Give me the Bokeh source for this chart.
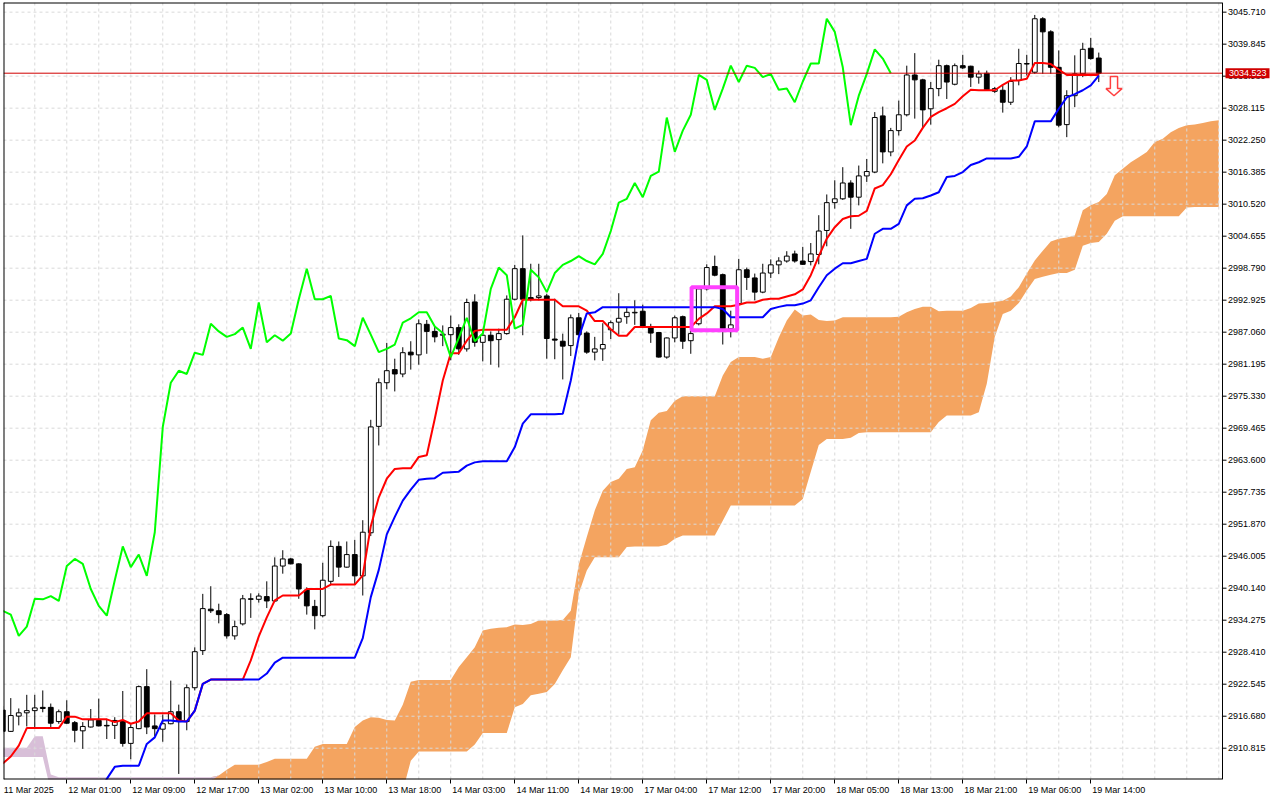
import numpy as np
from bokeh.plotting import figure
from bokeh.models import FixedTicker, LinearAxis, Range1d, ColumnDataSource
from bokeh.core.properties import value
from bokeh.embed import file_html
from bokeh.resources import INLINE

# ---------------- data ----------------
opens = [2917.8, 2913.9, 2916.7, 2917.3, 2917.7, 2918.3, 2918.3, 2915.7, 2917.5, 2915.5,
         2914.0, 2914.7, 2915.9, 2915.0, 2915.0, 2915.7, 2911.7, 2914.4, 2922.1, 2914.9,
         2914.3, 2915.3, 2917.5, 2915.7, 2921.9, 2928.7, 2936.3, 2936.0, 2935.3, 2931.4,
         2933.6, 2938.2, 2938.1, 2938.6, 2937.8, 2944.2, 2945.5, 2944.6, 2939.8, 2936.8,
         2935.1, 2941.4, 2947.8, 2944.0, 2946.3, 2942.4, 2950.3, 2969.8, 2977.8, 2980.2,
         2979.4, 2983.4, 2982.9, 2988.5, 2987.2, 2986.5, 2986.6, 2987.9, 2984.0, 2992.6,
         2985.2, 2986.5, 2985.7, 2986.8, 2993.1, 2998.7, 2993.4, 2993.4, 2993.7, 2985.8,
         2985.4, 2984.6, 2989.7, 2986.9, 2983.4, 2984.0, 2987.5, 2988.9, 2989.9, 2990.6,
         2990.9, 2987.9, 2987.0, 2982.5, 2986.0, 2989.9, 2985.5, 2988.6, 2995.0, 2999.1,
         2997.6, 2987.7, 2992.3, 2998.5, 2997.0, 2994.4, 2997.9, 2999.4, 3000.1, 3001.4,
         3000.1, 3000.0, 3001.3, 3005.7, 3010.8, 3011.5, 3014.4, 3011.8, 3015.7, 3016.4,
         3026.7, 3020.1, 3024.0, 3026.9, 3034.2, 3033.3, 3028.0, 3031.7, 3035.9, 3032.5,
         3035.9, 3035.8, 3033.8, 3034.5, 3031.2, 3031.4, 3029.2, 3033.2, 3036.2, 3034.7,
         3044.5, 3042.1, 3035.6, 3025.1, 3030.4, 3034.4, 3039.1, 3037.3]
highs = [2918.5, 2920.0, 2918.1, 2920.6, 2920.6, 2921.4, 2919.0, 2917.9, 2919.6, 2915.8,
         2915.6, 2918.0, 2919.9, 2916.2, 2916.5, 2921.3, 2915.2, 2922.3, 2925.3, 2917.0,
         2917.0, 2923.2, 2918.8, 2922.5, 2929.3, 2939.1, 2940.5, 2937.3, 2935.6, 2934.2,
         2938.9, 2939.2, 2939.2, 2941.4, 2945.8, 2947.1, 2945.7, 2944.7, 2940.3, 2938.0,
         2944.8, 2948.9, 2948.7, 2948.7, 2949.0, 2952.6, 2971.0, 2978.6, 2985.1, 2982.2,
         2984.3, 2985.4, 2989.4, 2989.3, 2988.0, 2988.3, 2990.1, 2988.5, 2993.2, 2994.0,
         2987.2, 2987.2, 2987.7, 2993.8, 2999.4, 3004.8, 2999.6, 2999.6, 2994.1, 2993.2,
         2986.8, 2990.3, 2990.6, 2987.2, 2986.2, 2988.7, 2989.2, 2994.2, 2991.7, 2992.9,
         2992.1, 2988.6, 2987.1, 2986.1, 2990.1, 2990.1, 2987.7, 2995.3, 2999.5, 3001.1,
         2997.8, 2991.0, 3000.5, 2998.9, 2997.8, 2999.6, 3000.4, 3000.8, 3001.9, 3002.0,
         3002.7, 3003.4, 3008.5, 3012.3, 3014.9, 3017.3, 3014.9, 3017.6, 3018.8, 3027.4,
         3028.4, 3024.5, 3029.5, 3035.9, 3038.2, 3033.5, 3032.9, 3037.0, 3036.1, 3036.3,
         3037.9, 3035.9, 3035.0, 3035.0, 3032.0, 3032.3, 3033.8, 3039.0, 3037.9, 3045.2,
         3044.8, 3042.4, 3038.7, 3031.4, 3037.8, 3040.1, 3041.0, 3038.3]
lows = [2913.5, 2913.8, 2915.0, 2914.8, 2914.4, 2917.4, 2914.7, 2915.3, 2915.3, 2911.9,
        2910.7, 2914.6, 2914.8, 2912.5, 2912.5, 2911.1, 2908.8, 2914.3, 2913.4, 2913.0,
        2912.0, 2915.2, 2906.1, 2914.1, 2921.4, 2927.9, 2935.6, 2933.7, 2930.9, 2930.7,
        2933.3, 2934.7, 2937.5, 2936.5, 2937.6, 2942.8, 2944.5, 2938.2, 2935.3, 2932.6,
        2934.8, 2940.9, 2942.2, 2943.9, 2940.9, 2938.8, 2949.7, 2966.3, 2976.6, 2976.2,
        2978.8, 2980.2, 2981.1, 2983.1, 2985.2, 2984.5, 2981.9, 2982.9, 2983.5, 2984.4,
        2981.7, 2981.1, 2980.6, 2986.6, 2992.9, 2986.5, 2992.7, 2992.9, 2982.2, 2982.1,
        2978.4, 2982.7, 2986.4, 2983.1, 2981.9, 2981.8, 2985.8, 2986.6, 2988.6, 2988.4,
        2987.9, 2985.1, 2982.4, 2982.2, 2985.2, 2984.0, 2983.1, 2988.3, 2994.7, 2997.3,
        2984.8, 2986.1, 2992.1, 2994.8, 2992.9, 2994.2, 2997.0, 2997.7, 2999.8, 2999.8,
        2999.4, 2999.3, 2999.5, 3002.8, 3009.7, 3011.3, 3006.0, 3010.3, 3014.6, 3016.2,
        3018.0, 3019.3, 3023.1, 3026.6, 3026.2, 3024.6, 3025.1, 3030.3, 3029.8, 3032.3,
        3035.3, 3032.0, 3032.6, 3031.4, 3030.9, 3027.3, 3028.7, 3032.3, 3034.1, 3034.4,
        3034.4, 3034.4, 3024.6, 3022.8, 3028.3, 3033.8, 3037.0, 3032.9]
closes = [2913.9, 2916.8, 2917.3, 2917.7, 2918.2, 2918.1, 2915.4, 2917.5, 2915.4, 2914.1,
          2914.8, 2916.0, 2914.9, 2914.9, 2915.9, 2911.7, 2914.6, 2922.1, 2914.7, 2914.4,
          2915.3, 2917.5, 2915.7, 2921.9, 2928.5, 2936.4, 2936.0, 2935.3, 2931.4, 2933.1,
          2938.2, 2938.1, 2938.7, 2937.8, 2944.2, 2945.5, 2944.6, 2940.0, 2936.9, 2935.1,
          2941.6, 2947.8, 2944.0, 2946.3, 2942.4, 2950.4, 2969.7, 2977.8, 2980.0, 2979.4,
          2983.3, 2982.9, 2988.6, 2987.2, 2986.2, 2986.7, 2987.9, 2984.0, 2992.5, 2985.2,
          2986.5, 2985.5, 2986.8, 2993.1, 2998.7, 2993.1, 2993.1, 2993.7, 2985.9, 2985.6,
          2984.5, 2989.7, 2986.6, 2983.4, 2984.0, 2984.8, 2988.8, 2989.6, 2990.7, 2990.7,
          2988.1, 2986.9, 2982.5, 2986.0, 2989.7, 2985.4, 2986.8, 2995.0, 2998.9, 2997.5,
          2987.7, 2988.4, 2998.5, 2997.1, 2994.4, 2997.9, 2999.4, 3000.1, 3001.0, 3000.1,
          2999.5, 3001.4, 3005.6, 3010.8, 3011.5, 3014.4, 3011.8, 3015.7, 3016.5, 3026.4,
          3020.1, 3024.0, 3026.9, 3034.2, 3033.3, 3027.8, 3031.7, 3035.9, 3032.9, 3035.9,
          3035.5, 3033.8, 3034.4, 3031.5, 3031.7, 3029.2, 3033.0, 3036.3, 3036.3, 3044.5,
          3042.1, 3035.6, 3025.0, 3030.4, 3034.4, 3038.9, 3037.2, 3034.523]

tenkan = [2908.0, 2909.3, 2911.3, 2914.5, 2914.5, 2914.5, 2914.5, 2914.5, 2916.6, 2916.6,
          2916.1, 2916.1, 2916.1, 2916.1, 2915.6, 2916.0, 2915.3, 2915.7, 2917.2, 2917.2,
          2917.2, 2917.2, 2915.9, 2915.7, 2917.7, 2922.6, 2923.4, 2923.4, 2923.4, 2923.4,
          2923.4, 2926.9, 2931.3, 2934.8, 2937.9, 2938.8, 2938.8, 2938.8, 2940.0, 2940.0,
          2940.0, 2940.8, 2940.8, 2940.8, 2940.8, 2942.5, 2951.5, 2956.8, 2960.2, 2962.0,
          2962.1, 2962.1, 2964.2, 2964.5, 2971.2, 2978.2, 2983.2, 2983.2, 2985.5, 2987.3,
          2987.5, 2987.5, 2987.5, 2987.5, 2989.8, 2993.0, 2993.0, 2993.0, 2993.0, 2993.0,
          2991.8, 2991.8, 2991.8, 2991.0, 2989.1, 2989.1, 2987.6, 2986.4, 2986.4, 2988.0,
          2988.0, 2988.0, 2988.0, 2988.0, 2988.0, 2988.0, 2988.0, 2989.5, 2990.5, 2991.8,
          2991.8, 2991.8, 2992.1, 2992.5, 2992.5, 2993.0, 2993.2, 2993.2, 2993.6, 2994.0,
          2994.9, 2997.5, 3001.0, 3004.2, 3006.3, 3007.8, 3008.3, 3008.4, 3009.3, 3013.4,
          3014.0, 3016.0, 3018.6, 3021.1, 3022.2, 3024.5, 3026.5, 3027.4, 3028.1, 3028.9,
          3030.3, 3031.5, 3031.4, 3031.4, 3031.4, 3032.4, 3033.2, 3033.2, 3033.5, 3036.4,
          3036.4, 3036.2, 3035.2, 3034.2, 3034.2, 3034.2, 3034.2, 3034.2]
kijun = [2902.0, 2902.0, 2902.0, 2902.0, 2902.0, 2902.0, 2902.0, 2902.0, 2902.0, 2902.0,
         2902.0, 2902.0, 2902.0, 2905.2, 2907.4, 2907.6, 2907.6, 2907.6, 2911.6, 2912.8,
         2915.9, 2915.9, 2915.7, 2915.7, 2917.7, 2922.6, 2923.4, 2923.4, 2923.4, 2923.4,
         2923.4, 2923.4, 2923.4, 2924.5, 2926.5, 2927.4, 2927.4, 2927.4, 2927.4, 2927.4,
         2927.4, 2927.4, 2927.4, 2927.4, 2927.4, 2931.0, 2938.5, 2943.5, 2950.0, 2953.2,
         2956.2, 2958.2, 2960.0, 2960.2, 2960.3, 2961.3, 2961.4, 2961.5, 2962.6, 2963.2,
         2963.4, 2963.4, 2963.4, 2963.4, 2966.0, 2970.3, 2972.0, 2972.0, 2972.0, 2972.0,
         2972.1, 2978.2, 2986.1, 2990.5, 2990.7, 2991.65, 2991.65, 2991.65, 2991.65, 2991.65,
         2991.65, 2991.65, 2991.65, 2991.65, 2991.65, 2991.65, 2991.65, 2991.65, 2991.65, 2991.65,
         2991.3, 2989.8, 2989.8, 2989.8, 2989.8, 2989.8, 2991.3, 2991.7, 2992.0, 2992.0,
         2992.3, 2992.9, 2995.3, 2997.5, 2998.7, 2999.7, 2999.7, 3000.1, 3000.5, 3005.1,
         3006.0, 3006.0, 3006.9, 3010.3, 3011.5, 3011.6, 3012.1, 3012.7, 3015.5, 3015.7,
         3016.4, 3017.7, 3018.2, 3018.9, 3018.9, 3018.9, 3018.9, 3019.2, 3021.1, 3025.7,
         3025.7, 3025.7, 3028.0, 3030.1, 3030.7, 3031.4, 3032.3, 3034.1]

span_a = [2909.2, 2909.2, 2909.2, 2909.2, 2909.2, 2909.2, 2903.0, 2903.0, 2903.0, 2903.0,
          2903.0, 2903.0, 2903.0, 2903.0, 2903.0, 2903.0, 2903.0, 2903.0, 2903.0, 2903.0,
          2903.0, 2903.0, 2903.0, 2903.0, 2903.0, 2903.0, 2904.8, 2905.8, 2906.85, 2907.8,
          2907.8, 2907.8, 2907.8, 2908.3, 2908.9, 2908.9, 2908.9, 2908.9, 2908.9, 2911.1,
          2911.6, 2911.6, 2911.6, 2911.6, 2914.7, 2915.9, 2916.5, 2916.4, 2916.0, 2915.9,
          2918.8, 2923.0, 2923.3, 2923.3, 2923.3, 2923.3, 2923.3, 2925.7, 2927.5, 2929.3,
          2932.4, 2932.7, 2932.9, 2933.0, 2933.5, 2933.4, 2933.6, 2934.2, 2934.2, 2934.2,
          2934.3, 2936.0, 2944.5, 2949.5, 2954.4, 2958.0, 2959.6, 2960.2, 2962.0, 2962.3,
          2965.4, 2970.9, 2972.3, 2972.6, 2974.5, 2975.3, 2975.3, 2975.3, 2975.3, 2975.3,
          2979.1, 2981.6, 2982.5, 2982.5, 2982.5, 2982.2, 2982.5, 2986.1, 2989.2, 2991.2,
          2990.1, 2990.3, 2989.3, 2989.1, 2989.2, 2989.8, 2989.8, 2989.8, 2989.8, 2989.8,
          2989.8, 2989.8, 2989.9, 2990.7, 2991.3, 2991.7, 2991.7, 2990.9, 2991.0, 2991.0,
          2991.0, 2991.5, 2992.3, 2992.4, 2992.6, 2992.8, 2993.6, 2995.3, 2997.8, 3000.2,
          3002.0, 3003.7, 3004.2, 3004.4, 3004.8, 3009.4, 3010.3, 3010.9, 3012.4, 3015.8,
          3017.0, 3018.2, 3019.1, 3020.1, 3021.9, 3022.5, 3023.7, 3024.5, 3025.0, 3025.1,
          3025.4, 3025.7, 3025.9]
span_b = [2910.9, 2910.9, 2910.9, 2910.9, 2913.0, 2913.0, 2906.0, 2905.5, 2905.5, 2905.5,
          2905.5, 2905.5, 2905.5, 2905.5, 2905.5, 2905.5, 2905.5, 2905.5, 2905.5, 2905.5,
          2905.5, 2905.5, 2905.5, 2905.5, 2905.5, 2905.5, 2905.5, 2903.0, 2903.0, 2903.0,
          2903.0, 2903.0, 2903.0, 2903.0, 2903.0, 2903.0, 2903.0, 2903.0, 2903.0, 2903.0,
          2903.0, 2903.0, 2903.0, 2903.0, 2903.0, 2903.0, 2903.0, 2903.0, 2903.0, 2903.0,
          2903.0, 2908.5, 2910.2, 2910.2, 2910.2, 2910.2, 2910.2, 2910.2, 2910.2, 2911.5,
          2913.6, 2913.6, 2913.6, 2913.6, 2918.3, 2918.9, 2920.5, 2920.8, 2921.1, 2922.6,
          2925.1, 2927.5, 2939.1, 2943.4, 2945.8, 2945.8, 2945.8, 2945.8, 2947.7, 2947.8,
          2947.8, 2947.8, 2947.8, 2948.1, 2949.2, 2949.8, 2949.8, 2949.8, 2949.8, 2949.8,
          2952.5, 2955.3, 2955.3, 2955.3, 2955.3, 2955.3, 2955.3, 2955.3, 2955.3, 2955.3,
          2956.5, 2961.5, 2966.4, 2967.5, 2967.5, 2967.5, 2967.7, 2968.6, 2968.7, 2968.7,
          2968.7, 2968.7, 2968.7, 2968.7, 2968.7, 2968.7, 2968.7, 2970.6, 2971.8, 2971.8,
          2971.8, 2971.8, 2972.4, 2977.6, 2986.2, 2990.4, 2991.0, 2992.4, 2994.7, 2996.8,
          2997.2, 2997.6, 2997.9, 2997.9, 2998.5, 3002.9, 3003.4, 3003.6, 3005.1, 3007.5,
          3008.3, 3008.3, 3008.3, 3008.3, 3008.3, 3008.3, 3008.3, 3008.3, 3009.9, 3010.0,
          3010.0, 3010.0, 3010.0]

tick_bars = [0, 8, 16, 24, 32, 40, 48, 56, 64, 72, 80, 88, 96, 104, 112, 120, 128, 136]
tick_labels = ["11 Mar 2025", "12 Mar 01:00", "12 Mar 09:00", "12 Mar 17:00", "13 Mar 02:00",
               "13 Mar 10:00", "13 Mar 18:00", "14 Mar 03:00", "14 Mar 11:00", "14 Mar 19:00",
               "17 Mar 04:00", "17 Mar 12:00", "17 Mar 20:00", "18 Mar 05:00", "18 Mar 13:00",
               "18 Mar 21:00", "19 Mar 06:00", "19 Mar 14:00"]
price_ticks = [2910.815, 2916.680, 2922.545, 2928.410, 2934.275, 2940.140, 2946.005, 2951.870,
               2957.735, 2963.600, 2969.465, 2975.330, 2981.195, 2987.060, 2992.925, 2998.790,
               3004.655, 3010.520, 3016.385, 3022.250, 3028.115, 3033.980, 3039.845, 3045.710]
last_price = 3034.523
chikou_shift = 26

# highlighted box (bar units / price units)
box_left, box_right, box_bottom, box_top = 86.1, 91.8, 2987.4, 2995.3
# sell arrow marker
arrow_bar, arrow_top, arrow_mid, arrow_tip = 138.9, 3033.9, 3031.7, 3030.4
arrow_shaft_half, arrow_head_half = 0.45, 1.0

# ---------------- geometry ----------------
W, H = 1280, 800
LEFT, TOP, BOTTOM = 3, 2, 21
PX = 8.0                   # pixels per bar
X0 = 0.09                  # left edge (bars)
CHART_W = 1219             # chart width in px (price scale sits to its right)
X_AX = X0 + CHART_W / PX
FRAME_W = W - LEFT
X1 = X0 + FRAME_W / PX     # frame includes the price-scale strip
Y0, Y1 = 2905.08, 3047.48
FONT = "Liberation Sans"
FS = "9px"
GRID = "#d9d9d9"

p = figure(width=W, height=H, x_range=Range1d(X0, X1), y_range=Range1d(Y0, Y1),
           output_backend="svg", toolbar_location=None, y_axis_location=None,
           min_border_left=LEFT, min_border_top=TOP, min_border_right=0,
           min_border_bottom=BOTTOM)
p.background_fill_color = "white"
p.border_fill_color = "white"
p.outline_line_color = None
p.grid.visible = False

# x axis: tick marks only (at bar positions)
xa = p.xaxis[0]
xa.ticker = FixedTicker(ticks=tick_bars)
xa.major_label_overrides = {b: " " for b in tick_bars}
xa.major_label_text_font_size = "1px"
xa.major_label_standoff = 0
xa.major_tick_out = 4
xa.major_tick_in = 0
xa.minor_tick_out = 0
xa.minor_tick_in = 0
xa.axis_line_color = None
xa.major_tick_line_color = "black"

# x axis 2: labels, left-aligned at their ticks
lab_pos = [b + (3.25 if i == 0 else 3.5) for i, b in enumerate(tick_bars)]
xl = LinearAxis(ticker=FixedTicker(ticks=lab_pos),
                major_label_overrides={t: s for t, s in zip(lab_pos, tick_labels)})
xl.axis_line_color = None
xl.major_tick_out = 0
xl.major_tick_in = 0
xl.minor_tick_out = 0
xl.minor_tick_in = 0
xl.major_label_standoff = -3
xl.major_label_text_font = FONT
xl.major_label_text_font_size = FS
xl.major_label_text_color = "black"
p.add_layout(xl, "below")

# ---------------- cloud ----------------
a = np.array(span_a)
b = np.array(span_b)
cx = np.arange(len(a))
cloud = ColumnDataSource(dict(x=cx, b=b, up=np.maximum(a, b), a=a, dn=np.maximum(a, b)))
p.varea(x="x", y1="b", y2="up", source=cloud, fill_color="#f4a460")
p.varea(x="x", y1="a", y2="dn", source=cloud, fill_color="#d8bfd8")

# ---------------- grid (inside the chart only) ----------------
grid_bars = [g for g in range(0, 153, 4)]
p.segment(x0=grid_bars, y0=[Y0] * len(grid_bars), x1=grid_bars, y1=[Y1] * len(grid_bars),
          line_color=GRID, line_dash="3 3", line_width=1)
p.segment(x0=[X0] * len(price_ticks), y0=price_ticks, x1=[X_AX] * len(price_ticks), y1=price_ticks,
          line_color=GRID, line_dash="3 3", line_width=1)

# ---------------- candles ----------------
bars = np.arange(len(closes))
o = np.array(opens); c = np.array(closes)
cs = ColumnDataSource(dict(
    x=bars, h=highs, l=lows,
    top=np.maximum(o, c), bot=np.minimum(o, c),
    col=["white" if cc >= oo else "black" for oo, cc in zip(opens, closes)]))
p.segment(x0="x", y0="l", x1="x", y1="h", source=cs, line_color="black", line_width=1)
p.vbar(x="x", width=0.6, top="top", bottom="bot", source=cs,
       fill_color="col", line_color="black", line_width=1)

# ---------------- Ichimoku lines ----------------
p.line(bars, tenkan, line_color="#ff0000", line_width=2)
p.line(bars, kijun, line_color="#0000ff", line_width=2)
p.line(bars[:-chikou_shift], closes[chikou_shift:], line_color="#00ff00", line_width=2)

# ---------------- highlight box ----------------
p.quad(left=[box_left], right=[box_right], bottom=[box_bottom], top=[box_top],
       fill_alpha=0, line_color="#ff40ff", line_width=4)

# ---------------- arrow ----------------
ax_ = arrow_bar
p.patch([ax_ - arrow_shaft_half, ax_ + arrow_shaft_half, ax_ + arrow_shaft_half, ax_ + arrow_head_half,
         ax_, ax_ - arrow_head_half, ax_ - arrow_shaft_half],
        [arrow_top, arrow_top, arrow_mid, arrow_mid, arrow_tip, arrow_mid, arrow_mid],
        fill_color="white", line_color="#ff4040", line_width=1.5)

# ---------------- current price line ----------------
p.segment(x0=[X0], y0=[last_price], x1=[X_AX], y1=[last_price], line_color="#d00000", line_width=1)

# ---------------- chart borders ----------------
p.segment(x0=[X0, X0, X_AX, X0], y0=[Y0, Y0, Y0, Y1], x1=[X0, X_AX, X_AX, X_AX], y1=[Y1, Y0, Y1, Y1],
          line_color="black", line_width=[2, 2, 1, 2])

# ---------------- price scale (drawn inside the frame strip) ----------------
n = len(price_ticks)
p.segment(x0=[X_AX] * n, y0=price_ticks, x1=[X_AX + 4 / PX] * n, y1=price_ticks,
          line_color="black", line_width=1)
p.text(x=[X_AX + 5.5 / PX] * n, y=price_ticks, text=[f"{t:.3f}" for t in price_ticks],
       text_font=value(FONT), text_font_size=value(FS), text_color="black",
       text_align="left", text_baseline="middle")
p.rect(x=[X_AX + 25 / PX], y=[last_price], width=44, height=10,
       width_units="screen", height_units="screen", fill_color="#d00000", line_color=None)
p.text(x=[X_AX + 6.5 / PX], y=[last_price], text=[f"{last_price:.3f}"],
       text_font=value(FONT), text_font_size=value(FS), text_color="white",
       text_align="left", text_baseline="middle")

open("out.html", "w").write(file_html(p, INLINE))
